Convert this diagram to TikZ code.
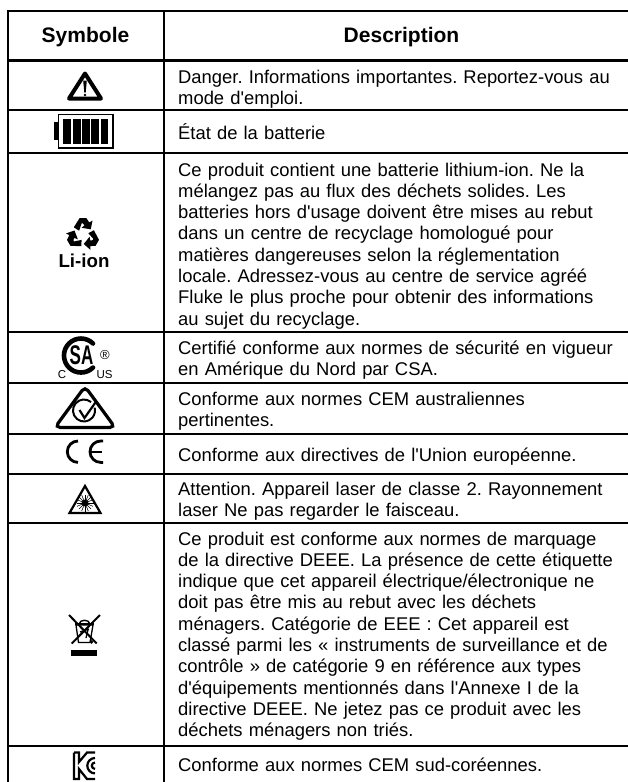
\documentclass[tikz,border=0pt]{standalone}
\usepackage{fontspec}
\usepackage{graphicx}
\defaultfontfeatures[\rmfamily]{}
\setmainfont{Liberation Sans}
\tikzset{x=1pt,y=-1pt,
 grid/.style={line width=1.6pt},
 head/.style={font=\fontsize{21}{24}\selectfont\bfseries,anchor=center,inner sep=0pt},
 desc/.style={font=\frenchspacing\fontsize{18.4}{21.3}\selectfont,anchor=north west,inner sep=0pt,align=left,text width=445pt},
 smalltxt/.style={font=\fontsize{11.5}{14}\selectfont,anchor=base,inner sep=0pt},
 liion/.style={font=\fontsize{18.7}{20}\selectfont\bfseries,anchor=base,inner sep=0pt}}
\begin{document}
\begin{tikzpicture}
\useasboundingbox (0,0) rectangle (628,782);
\fill[white] (0,0) rectangle (628,782);
% table
\draw[grid] (7.2,11) -- (628,11) (8,11) -- (8,782) (164,11) -- (164,782);
\draw[line width=3pt] (8,60) -- (628,60);
\foreach \y in {110,153,332,383,434,474,523,746}{\draw[grid] (8,\y) -- (628,\y);}
\node[head] (h1) at (85.5,37) {Symbole};
\node[head] (h2) at (401.5,37) {Description};
\node[desc] (d1) at (178,69.5) {Danger. Informations importantes. Reportez-vous au\\mode d'emploi.};
\node[desc] (d2) at (178,123.5) {État de la batterie};
\node[desc] (d3) at (178,162.5) {Ce produit contient une batterie lithium-ion. Ne la\\mélangez pas au flux des déchets solides. Les\\batteries hors d'usage doivent être mises au rebut\\dans un centre de recyclage homologué pour\\matières dangereuses selon la réglementation\\locale. Adressez-vous au centre de service agréé\\Fluke le plus proche pour obtenir des informations\\au sujet du recyclage.};
\node[desc] (d4) at (178,340.5) {Certifié conforme aux normes de sécurité en vigueur\\en Amérique du Nord par CSA.};
\node[desc] (d5) at (178,391.5) {Conforme aux normes CEM australiennes\\pertinentes.};
\node[desc] (d6) at (178,447.5) {Conforme aux directives de l'Union européenne.};
\node[desc] (d7) at (178,481.5) {Attention. Appareil laser de classe 2. Rayonnement\\laser Ne pas regarder le faisceau.};
\node[desc] (d8) at (178,531.5) {Ce produit est conforme aux normes de marquage\\de la directive DEEE. La présence de cette étiquette\\indique que cet appareil électrique/électronique ne\\doit pas être mis au rebut avec les déchets\\ménagers. Catégorie de EEE : Cet appareil est\\classé parmi les « instruments de surveillance et de\\contrôle » de catégorie 9 en référence aux types\\d'équipements mentionnés dans l'Annexe I de la\\directive DEEE. Ne jetez pas ce produit avec les\\déchets ménagers non triés.};
\node[desc] (d9) at (178,757.5) {Conforme aux normes CEM sud-coréennes.};
% warning
\draw[line width=4pt,line join=round] (85,73.5) -- (69,98.5) -- (101,98.5) -- cycle;
\fill (83.2,80.5) -- (86.8,80.5) -- (85.7,92.5) -- (84.3,92.5) -- cycle;
\fill (85,95) circle (1.4);
% battery
\fill (53.5,122) rectangle (58,140);
\draw[line width=1.2pt] (58.5,114.5) rectangle (113,148);
\foreach \x in {63,72.7,82,91.3,100.6}{\fill (\x,119) rectangle +(7.8,25);}
% recycling
\begin{scope}[shift={(83,234.6)},scale=.97]
\foreach \a in {0,120,240}{
 \fill[rotate=\a] (-9.5,-7.5) -- (-3.5,-17) -- (3.5,-17) -- (6.5,-12.5) -- (9.8,-14.5) -- (8,-5.5) -- (-1.5,-7) -- (1.5,-9.5) -- (0,-11.5) -- (-1.5,-11.5) -- (-4,-4) -- cycle;}
\end{scope}
\node[liion] (li) at (84,267) {Li-ion};
% CSA
\draw[line width=4.6pt,line cap=round] (93,343.5) arc[start angle=-45,end angle=-315,radius=17];
\node[font=\fontsize{20}{20}\selectfont\bfseries,inner sep=0pt] (sa) at (81.5,355.5) {\scalebox{.85}[1.35]{SA}};
\node[smalltxt] (reg) at (105,359) {\fontsize{13}{14}\selectfont ®};
\node[smalltxt] (cc) at (62,378) {C};
\node[smalltxt] (us) at (104.5,378) {US};
% RCM
\draw[line width=3.2pt,rounded corners=5pt] (85,427.4) -- (55,427.4) -- (85,386.5) -- (115,427.4) -- cycle;
\draw[line width=2pt] (91.07,402.07) arc[start angle=-50,end angle=-375,radius=11];
\draw[line width=2.2pt,line join=miter] (79.5,410) -- (84.5,418) -- (96.5,401);
% CE
\draw[line width=2.8pt] (78,441) arc[start angle=270,end angle=90,radius=10.7];
\draw[line width=2.8pt] (103,441) -- (100.7,441) arc[start angle=270,end angle=90,radius=10.7] -- (103,462.4);
\draw[line width=2.4pt] (90.5,451.7) -- (102,451.7);
% laser
\draw[line width=2.2pt,line join=miter] (85,486) -- (69.5,513) -- (100.5,513) -- cycle;
\fill (85,503) circle (3.4);
\foreach \a in {0,22.5,...,337.5}{\draw[line width=.55pt] (85,503) -- +(\a:8.5);}
% WEEE
\draw[line width=2pt] (69,615) -- (96.7,643.5) (100,615) -- (71.7,643.5);
\draw[line width=1.3pt] (76,625) -- (78.5,642.5) -- (90,642.5) -- (93,625) -- cycle;
\draw[line width=1.8pt] (75,624) -- (94,624);
\draw[line width=1.4pt] (79,624) .. controls (80,619) and (89,619) .. (90,624);
\draw[line width=1.3pt] (80,632) -- (89,629) (88,630) -- (86,638);
\fill (91.5,642) circle (1.8);
\fill (71,650) rectangle (97.4,655.7);
% KC
\draw[line width=2.2pt] (74,752.5) -- (79,752.5) -- (79,762) -- (87,752.5) -- (95,752.5);
\draw[line width=2.2pt] (74,752.5) -- (74,779) -- (79,779) -- (79,769) -- (87,779) -- (95,779);
\draw[line width=2.2pt] (95,758) arc[start angle=270,end angle=90,radius=7.7];
\draw[line width=2.2pt] (95,762.5) arc[start angle=270,end angle=90,radius=3.2];
\end{tikzpicture}
\end{document}
